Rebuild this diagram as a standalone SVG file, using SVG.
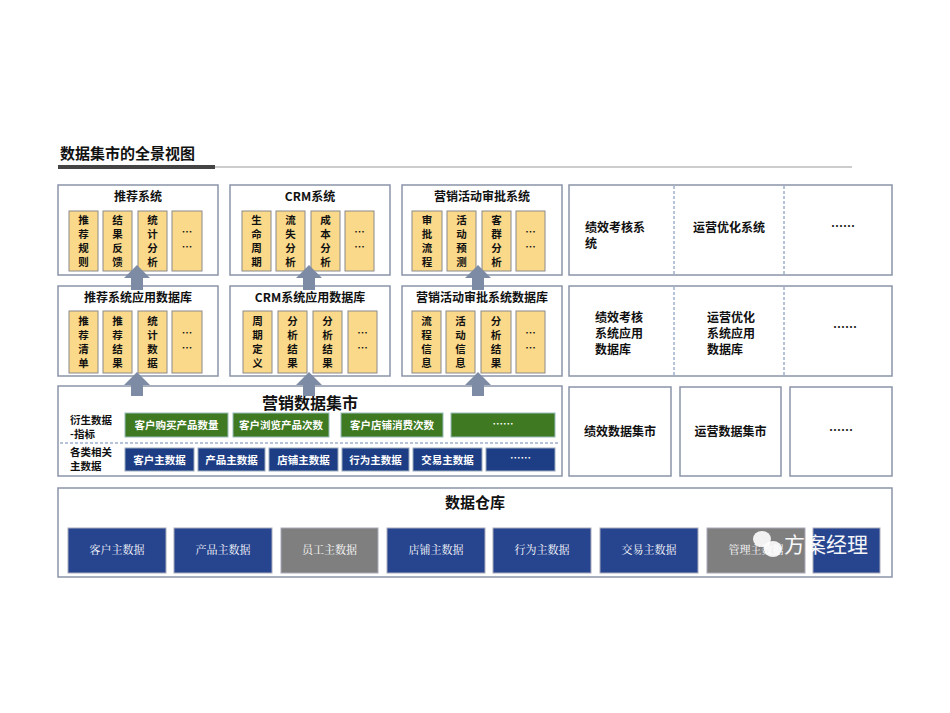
<svg xmlns="http://www.w3.org/2000/svg" width="950" height="713" viewBox="0 0 950 713">
<style>
text{font-family:"Noto Sans CJK SC","Liberation Sans",sans-serif;fill:#111;font-weight:bold}
.frame{fill:#fff;stroke:#8a94a8;stroke-width:1.5}
.y{fill:#fbd98a;stroke:#8a8a8a;stroke-width:1}
.yt{font-size:10.5px;text-anchor:middle}
.t{font-size:12px;text-anchor:middle}
.g{fill:#3f7a22;stroke:#9bb;stroke-width:1}
.b{fill:#1d3d85;stroke:#9ab;stroke-width:1}
.w{fill:#fff;font-size:10.5px;text-anchor:middle}
.wb{fill:#27458f;stroke:#aab;stroke-width:1}
.gr{fill:#7f7f7f;stroke:#aab;stroke-width:1}
.ws{fill:#fff;font-size:11px;text-anchor:middle;font-weight:normal;font-family:"Noto Serif CJK SC","Liberation Serif",serif}
.dash{stroke:#6f86b0;stroke-width:1;stroke-dasharray:3,2}
.ar{fill:#7d8ba4}
</style>
<text x="60" y="159" style="font-size:15px">数据集市的全景视图</text>
<rect x="58" y="165" width="157" height="4" fill="#444"/>
<line x1="215" y1="167" x2="852" y2="167" stroke="#bbb" stroke-width="1.5"/>

<g id="sys1"><rect class="frame" x="58" y="185" width="160" height="90"/><text class="t" x="138" y="201">推荐系统</text>
<rect class="y" x="69" y="211" width="29" height="60"/><rect class="y" x="103" y="211" width="29" height="60"/><rect class="y" x="138" y="211" width="29" height="60"/><rect class="y" x="172" y="211" width="30" height="60"/>
<text class="yt" x="83.5" y="224">推</text><text class="yt" x="83.5" y="238">荐</text><text class="yt" x="83.5" y="252">规</text><text class="yt" x="83.5" y="266">则</text>
<text class="yt" x="117.5" y="224">结</text><text class="yt" x="117.5" y="238">果</text><text class="yt" x="117.5" y="252">反</text><text class="yt" x="117.5" y="266">馈</text>
<text class="yt" x="152.5" y="224">统</text><text class="yt" x="152.5" y="238">计</text><text class="yt" x="152.5" y="252">分</text><text class="yt" x="152.5" y="266">析</text>
<text class="yt" x="187" y="236">…</text><text class="yt" x="187" y="251">…</text></g>

<g id="sys2"><rect class="frame" x="230" y="185" width="160" height="90"/><text class="t" x="310" y="201">CRM系统</text>
<rect class="y" x="242" y="211" width="29" height="60"/><rect class="y" x="276" y="211" width="29" height="60"/><rect class="y" x="311" y="211" width="29" height="60"/><rect class="y" x="345" y="211" width="29" height="60"/>
<text class="yt" x="256.5" y="224">生</text><text class="yt" x="256.5" y="238">命</text><text class="yt" x="256.5" y="252">周</text><text class="yt" x="256.5" y="266">期</text>
<text class="yt" x="290.5" y="224">流</text><text class="yt" x="290.5" y="238">失</text><text class="yt" x="290.5" y="252">分</text><text class="yt" x="290.5" y="266">析</text>
<text class="yt" x="325.5" y="224">成</text><text class="yt" x="325.5" y="238">本</text><text class="yt" x="325.5" y="252">分</text><text class="yt" x="325.5" y="266">析</text>
<text class="yt" x="359.5" y="236">…</text><text class="yt" x="359.5" y="251">…</text></g>

<g id="sys3"><rect class="frame" x="402" y="185" width="160" height="90"/><text class="t" x="482" y="201">营销活动审批系统</text>
<rect class="y" x="412" y="211" width="30" height="60"/><rect class="y" x="447" y="211" width="29" height="60"/><rect class="y" x="482" y="211" width="29" height="60"/><rect class="y" x="516" y="211" width="29" height="60"/>
<text class="yt" x="427" y="224">审</text><text class="yt" x="427" y="238">批</text><text class="yt" x="427" y="252">流</text><text class="yt" x="427" y="266">程</text>
<text class="yt" x="461.5" y="224">活</text><text class="yt" x="461.5" y="238">动</text><text class="yt" x="461.5" y="252">预</text><text class="yt" x="461.5" y="266">测</text>
<text class="yt" x="496.5" y="224">客</text><text class="yt" x="496.5" y="238">群</text><text class="yt" x="496.5" y="252">分</text><text class="yt" x="496.5" y="266">析</text>
<text class="yt" x="530.5" y="236">…</text><text class="yt" x="530.5" y="251">…</text></g>

<g id="db1"><rect class="frame" x="58" y="286" width="160" height="90"/><text class="t" x="138" y="302">推荐系统应用数据库</text>
<rect class="y" x="69" y="311" width="29" height="62"/><rect class="y" x="103" y="311" width="29" height="62"/><rect class="y" x="138" y="311" width="29" height="62"/><rect class="y" x="172" y="311" width="30" height="62"/>
<text class="yt" x="83.5" y="325">推</text><text class="yt" x="83.5" y="339">荐</text><text class="yt" x="83.5" y="353">清</text><text class="yt" x="83.5" y="367">单</text>
<text class="yt" x="117.5" y="325">推</text><text class="yt" x="117.5" y="339">荐</text><text class="yt" x="117.5" y="353">结</text><text class="yt" x="117.5" y="367">果</text>
<text class="yt" x="152.5" y="325">统</text><text class="yt" x="152.5" y="339">计</text><text class="yt" x="152.5" y="353">数</text><text class="yt" x="152.5" y="367">据</text>
<text class="yt" x="187" y="337">…</text><text class="yt" x="187" y="352">…</text></g>

<g id="db2"><rect class="frame" x="230" y="286" width="160" height="90"/><text class="t" x="310" y="302">CRM系统应用数据库</text>
<rect class="y" x="243" y="311" width="29" height="62"/><rect class="y" x="278" y="311" width="29" height="62"/><rect class="y" x="313" y="311" width="29" height="62"/><rect class="y" x="348" y="311" width="29" height="62"/>
<text class="yt" x="257.5" y="325">周</text><text class="yt" x="257.5" y="339">期</text><text class="yt" x="257.5" y="353">定</text><text class="yt" x="257.5" y="367">义</text>
<text class="yt" x="292.5" y="325">分</text><text class="yt" x="292.5" y="339">析</text><text class="yt" x="292.5" y="353">结</text><text class="yt" x="292.5" y="367">果</text>
<text class="yt" x="327.5" y="325">分</text><text class="yt" x="327.5" y="339">析</text><text class="yt" x="327.5" y="353">结</text><text class="yt" x="327.5" y="367">果</text>
<text class="yt" x="362.5" y="337">…</text><text class="yt" x="362.5" y="352">…</text></g>

<g id="db3"><rect class="frame" x="402" y="286" width="160" height="90"/><text class="t" x="482" y="302">营销活动审批系统数据库</text>
<rect class="y" x="412" y="311" width="29" height="62"/><rect class="y" x="446" y="311" width="29" height="62"/><rect class="y" x="481" y="311" width="30" height="62"/><rect class="y" x="516" y="311" width="29" height="62"/>
<text class="yt" x="426.5" y="325">流</text><text class="yt" x="426.5" y="339">程</text><text class="yt" x="426.5" y="353">信</text><text class="yt" x="426.5" y="367">息</text>
<text class="yt" x="460.5" y="325">活</text><text class="yt" x="460.5" y="339">动</text><text class="yt" x="460.5" y="353">信</text><text class="yt" x="460.5" y="367">息</text>
<text class="yt" x="496" y="325">分</text><text class="yt" x="496" y="339">析</text><text class="yt" x="496" y="353">结</text><text class="yt" x="496" y="367">果</text>
<text class="yt" x="530.5" y="337">…</text><text class="yt" x="530.5" y="352">…</text></g>

<g id="mart"><rect class="frame" x="58" y="386" width="504" height="90"/>
<text x="310" y="409" style="font-size:16px;text-anchor:middle">营销数据集市</text>
<text x="70" y="424" style="font-size:10.5px">衍生数据</text><text x="70" y="438" style="font-size:10.5px">-指标</text>
<text x="70" y="456" style="font-size:10.5px">各类相关</text><text x="70" y="470" style="font-size:10.5px">主数据</text>
<line class="dash" x1="60" y1="443" x2="560" y2="443"/>
<rect class="g" x="125" y="413" width="103" height="24"/><text class="w" x="176.5" y="429">客户购买产品数量</text>
<rect class="g" x="233" y="413" width="96" height="24"/><text class="w" x="281" y="429">客户浏览产品次数</text>
<rect class="g" x="341" y="413" width="102" height="24"/><text class="w" x="392" y="429">客户店铺消费次数</text>
<rect class="g" x="451" y="413" width="104" height="24"/><text class="w" x="503" y="428">……</text>
<rect class="b" x="125" y="448" width="69" height="23"/><text class="w" x="159.5" y="463.5">客户主数据</text>
<rect class="b" x="198" y="448" width="67" height="23"/><text class="w" x="231.5" y="463.5">产品主数据</text>
<rect class="b" x="269" y="448" width="69" height="23"/><text class="w" x="303.5" y="463.5">店铺主数据</text>
<rect class="b" x="342" y="448" width="67" height="23"/><text class="w" x="375.5" y="463.5">行为主数据</text>
<rect class="b" x="413" y="448" width="69" height="23"/><text class="w" x="447.5" y="463.5">交易主数据</text>
<rect class="b" x="486" y="448" width="69" height="23"/><text class="w" x="520.5" y="462">……</text>
</g>

<g id="right-sys"><rect class="frame" x="569" y="185" width="323" height="90"/>
<line class="dash" x1="674" y1="186" x2="674" y2="274"/><line class="dash" x1="784" y1="186" x2="784" y2="274"/>
<text class="t" x="585" y="232" style="text-anchor:start">绩效考核系</text><text class="t" x="585" y="248" style="text-anchor:start">统</text>
<text class="t" x="729" y="232">运营优化系统</text><text class="t" x="843" y="231">……</text></g>

<g id="right-db"><rect class="frame" x="569" y="286" width="323" height="90"/>
<line class="dash" x1="674" y1="287" x2="674" y2="375"/><line class="dash" x1="784" y1="287" x2="784" y2="375"/>
<text class="t" x="595" y="322" style="text-anchor:start">绩效考核</text><text class="t" x="595" y="338" style="text-anchor:start">系统应用</text><text class="t" x="595" y="354" style="text-anchor:start">数据库</text>
<text class="t" x="707" y="322" style="text-anchor:start">运营优化</text><text class="t" x="707" y="338" style="text-anchor:start">系统应用</text><text class="t" x="707" y="354" style="text-anchor:start">数据库</text>
<text class="t" x="845" y="332">……</text></g>

<g id="right-mart">
<rect class="frame" x="569" y="387" width="102" height="89"/><text class="t" x="620" y="436">绩效数据集市</text>
<rect class="frame" x="680" y="387" width="101" height="89"/><text class="t" x="730.5" y="436">运营数据集市</text>
<rect class="frame" x="790" y="387" width="102" height="89"/><text class="t" x="841" y="435">……</text>
</g>

<g id="warehouse"><rect class="frame" x="58" y="488" width="834" height="89"/>
<text x="475" y="508" style="font-size:15px;text-anchor:middle">数据仓库</text>
<rect class="wb" x="68" y="528" width="98" height="45"/><text class="ws" x="117" y="554">客户主数据</text>
<rect class="wb" x="174" y="528" width="98" height="45"/><text class="ws" x="223" y="554">产品主数据</text>
<rect class="gr" x="281" y="528" width="97" height="45"/><text class="ws" x="329.5" y="554">员工主数据</text>
<rect class="wb" x="387" y="528" width="98" height="45"/><text class="ws" x="436" y="554">店铺主数据</text>
<rect class="wb" x="493" y="528" width="98" height="45"/><text class="ws" x="542" y="554">行为主数据</text>
<rect class="wb" x="600" y="528" width="98" height="45"/><text class="ws" x="649" y="554">交易主数据</text>
<rect class="gr" x="707" y="528" width="98" height="45"/><text class="ws" x="756" y="554">管理主数据</text>
<rect class="wb" x="813" y="528" width="67" height="45"/>
</g>

<g id="connectors">
<path class="ar" d="M131,290 V278 H124 L137,265 L150,278 H143 V290 Z"/>
<path class="ar" d="M303,290 V278 H296 L309,265 L322,278 H315 V290 Z"/>
<path class="ar" d="M472,290 V278 H465 L478,265 L491,278 H484 V290 Z"/>
<path class="ar" d="M131,396 V385 H124 L137,372 L150,385 H143 V396 Z"/>
<path class="ar" d="M303,396 V385 H296 L309,372 L322,385 H315 V396 Z"/>
<path class="ar" d="M472,396 V385 H465 L478,372 L491,385 H484 V396 Z"/>
</g>

<g id="watermark">
<ellipse cx="762" cy="539" rx="9" ry="8" fill="#fff" opacity="0.9"/>
<ellipse cx="773" cy="549" rx="9" ry="8" fill="#fff" opacity="0.9"/>
<text x="784" y="552" style="font-size:21px;fill:#fff;font-weight:normal;opacity:0.95">方案经理</text>
</g>
</svg>
